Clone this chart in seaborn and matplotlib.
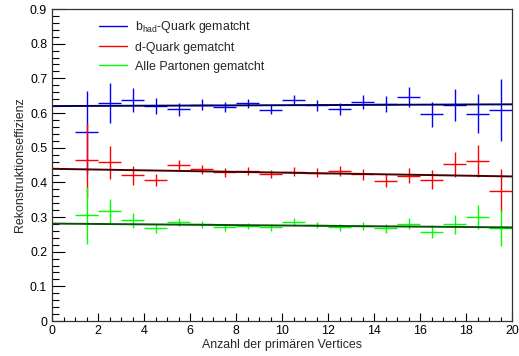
import numpy as np
import pandas as pd
import matplotlib
matplotlib.use("Agg")
import matplotlib.pyplot as plt
import seaborn as sns
from matplotlib.ticker import MultipleLocator

sns.set_style("ticks")
plt.rcParams['font.family'] = ['Liberation Sans', 'DejaVu Sans']
plt.rcParams['mathtext.fontset'] = 'custom'
plt.rcParams['mathtext.rm'] = 'Liberation Sans'

# bin centres (number of primary vertices)
n_vtx = [1.5, 2.5, 3.5, 4.5, 5.5, 6.5, 7.5, 8.5, 9.5, 10.5,
         11.5, 12.5, 13.5, 14.5, 15.5, 16.5, 17.5, 18.5, 19.5]

eff_b = [0.544, 0.629, 0.637, 0.621, 0.611, 0.624, 0.618, 0.628, 0.610, 0.637,
         0.622, 0.612, 0.632, 0.626, 0.646, 0.596, 0.624, 0.598, 0.608]
err_b = [0.120, 0.057, 0.035, 0.023, 0.019, 0.016, 0.014, 0.013, 0.014, 0.015,
         0.016, 0.017, 0.020, 0.024, 0.029, 0.035, 0.046, 0.057, 0.089]

eff_d = [0.465, 0.458, 0.420, 0.407, 0.449, 0.438, 0.429, 0.433, 0.425, 0.431,
         0.428, 0.433, 0.423, 0.405, 0.419, 0.408, 0.452, 0.462, 0.376]
err_d = [0.107, 0.047, 0.027, 0.018, 0.016, 0.013, 0.013, 0.012, 0.012, 0.012,
         0.013, 0.015, 0.016, 0.019, 0.022, 0.027, 0.036, 0.047, 0.063]

eff_all = [0.305, 0.316, 0.290, 0.267, 0.286, 0.279, 0.270, 0.275, 0.270, 0.286,
           0.278, 0.270, 0.274, 0.268, 0.281, 0.257, 0.279, 0.299, 0.269]
err_all = [0.082, 0.036, 0.021, 0.014, 0.011, 0.010, 0.009, 0.009, 0.009, 0.010,
           0.009, 0.010, 0.011, 0.013, 0.016, 0.019, 0.027, 0.035, 0.052]

# linear fits (p0 + p1*x)
fit_p0 = [0.620, 0.439, 0.281]
fit_p1 = [0.00025, -0.0011, -0.00055]

labels = [r'b$_{\mathrm{had}}$-Quark gematcht', 'd-Quark gematcht', 'Alle Partonen gematcht']
point_colors = ['#0000ff', '#ff0000', '#00ff00']
fit_colors = ['#000060', '#4a0000', '#0a500a']

fig = plt.figure(figsize=(5.19, 3.56), dpi=100)
ax = fig.add_axes([52 / 519, 1 - 321 / 356, 460 / 519, 312 / 356])

series = [(eff_b, err_b), (eff_d, err_d), (eff_all, err_all)]
for (eff, err), col in zip(series, point_colors):
    ax.errorbar(n_vtx, eff, xerr=0.5, yerr=err, fmt='none', ecolor=col,
                elinewidth=1.0, capsize=0)

x_fit = np.array([0, 20])
fit_rows = []
for i, lab in enumerate(labels):
    for xv in x_fit:
        fit_rows.append({'x': xv, 'y': fit_p0[i] + fit_p1[i] * xv, 'serie': lab})
fit_df = pd.DataFrame(fit_rows)
sns.lineplot(data=fit_df, x='x', y='y', hue='serie', palette=fit_colors,
             linewidth=1.4, legend=False, ax=ax)

# legend with plain coloured lines
handles = [plt.Line2D([], [], color=c, lw=1.0) for c in point_colors]
fig.legend(handles, labels, loc='upper left', bbox_to_anchor=(99 / 519, 1 - 19 / 356),
           bbox_transform=fig.transFigure, frameon=False, fontsize=8.9,
           handlelength=2.3, handletextpad=0.6, labelspacing=0.55,
           borderpad=0, borderaxespad=0)

ax.set_xlim(0, 20)
ax.set_ylim(0, 0.9)
ax.xaxis.set_major_locator(MultipleLocator(2))
ax.xaxis.set_minor_locator(MultipleLocator(0.5))
ax.yaxis.set_major_locator(MultipleLocator(0.1))
ax.yaxis.set_minor_locator(MultipleLocator(0.02))
ax.set_xticklabels([f'{int(v)}' for v in ax.get_xticks()])
ax.set_yticklabels(['0' if v == 0 else f'{v:.1f}' for v in ax.get_yticks()])

ax.tick_params(which='both', direction='in', colors='black', labelsize=8.9,
               top=False, right=False)
ax.tick_params(axis='y', which='major', length=9.4, width=0.8, pad=3.5)
ax.tick_params(axis='y', which='minor', length=4.8, width=0.8)
ax.tick_params(axis='x', which='major', length=5.8, width=0.8, pad=3)
ax.tick_params(axis='x', which='minor', length=2.9, width=0.8)
for sp in ax.spines.values():
    sp.set_visible(True)
    sp.set_linewidth(0.9)
    sp.set_color('#333333')

ax.set_xlabel('Anzahl der primären Vertices', fontsize=8.9, labelpad=1.5)
ax.set_ylabel('Rekonstruktionseffizienz', fontsize=8.9, labelpad=3)

fig.savefig('out.png', dpi=100)
